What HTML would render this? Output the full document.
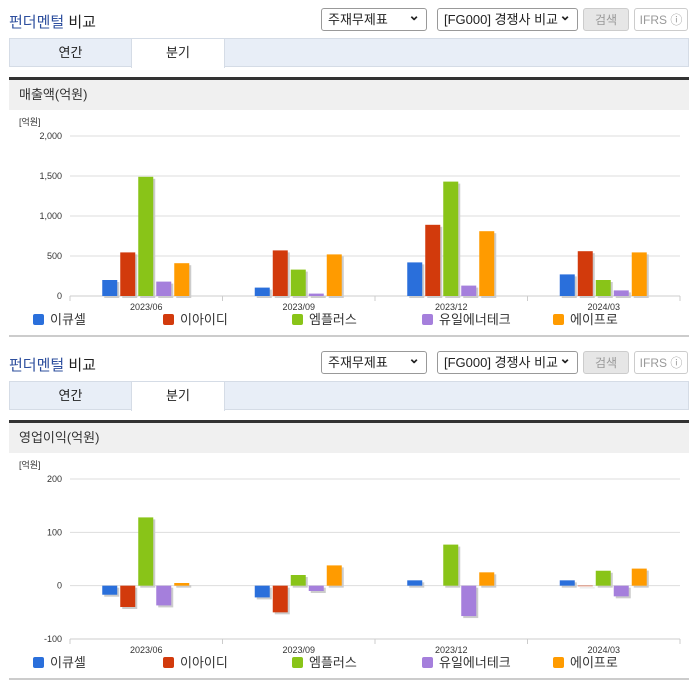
<!DOCTYPE html>
<html><head><meta charset="utf-8">
<style>
body{margin:0;width:696px;height:684px;background:#fff;font-family:"Liberation Sans","Noto Sans CJK KR",sans-serif;position:relative;overflow:hidden}
.sec{position:absolute;left:0;width:696px;height:343px}
.title{position:absolute;left:9px;top:11px;font-size:15px;color:#222}
.title b{font-weight:normal;color:#2e4f9e}
.sel{position:absolute;top:8px;height:23px;border:1px solid #999;border-radius:3px;font-size:13px;line-height:22px;padding-left:6px;box-sizing:border-box;color:#222;background:#fff}
.sel:after{content:"⌄";position:absolute;right:6px;top:-5px;font-size:14px;font-weight:bold}
.btn{position:absolute;top:8px;height:23px;border:1px solid #ccc;border-radius:3px;font-size:12px;line-height:22px;text-align:center;box-sizing:border-box;color:#999}
.tabs{position:absolute;left:9px;top:38px;width:680px;height:29px;background:#e8eef7;border:1px solid #d5dce6;box-sizing:border-box}
.tab{position:absolute;top:0;height:28px;line-height:28px;text-align:center;font-size:13px;color:#222}
.dark{position:absolute;left:9px;top:77px;width:680px;height:3px;background:#333}
.hdr{position:absolute;left:9px;top:80px;width:680px;height:30px;background:#f0f0f0;font-size:13px;line-height:30px;padding-left:10px;box-sizing:border-box;color:#333}
.foot{position:absolute;left:9px;top:335px;width:680px;height:2px;background:#ccc}
svg{position:absolute;left:0;top:110px}
</style></head><body>
<div id="root"></div>
<script>
const categories=["2023/06","2023/09","2023/12","2024/03"];
const seriesNames=["이큐셀","이아이디","엠플러스","유일에너테크","에이프로"];
const colors=["#2a6fdb","#d23a0c","#89c418","#a57fdc","#ff9b00"];
const revIqcell=[200,105,420,270];
const revEid=[545,570,890,560];
const revMplus=[1490,330,1430,200];
const revYuil=[180,30,130,70];
const revApro=[410,520,810,545];
const opIqcell=[-17,-22,10,10];
const opEid=[-40,-50,0,-1];
const opMplus=[128,20,77,28];
const opYuil=[-37,-10,-57,-20];
const opApro=[5,38,25,32];
const revTicks=[0,500,1000,1500,2000];
const revTickLabels=["0","500","1,000","1,500","2,000"];
const opTicks=[-100,0,100,200];
const opTickLabels=["-100","0","100","200"];
const charts=[
 {top:0,header:"매출액(억원)",series:[revIqcell,revEid,revMplus,revYuil,revApro],ticks:revTicks,labels:revTickLabels,min:0,max:2000},
 {top:343,header:"영업이익(억원)",series:[opIqcell,opEid,opMplus,opYuil,opApro],ticks:opTicks,labels:opTickLabels,min:-100,max:200}
];
const NS="http://www.w3.org/2000/svg";
const root=document.getElementById('root');
charts.forEach((c,ci)=>{
 const s=document.createElement('div');s.className='sec';s.style.top=c.top+'px';
 
 
 s.innerHTML=`<div class="title"><b>펀더멘털</b> 비교</div>
<div class="sel" style="left:321px;width:106px">주재무제표</div>
<div class="sel" style="left:437px;width:141px">[FG000] 경쟁사 비교</div>
<div class="btn" style="left:583px;width:46px;background:#e6e6e6">검색</div>
<div class="btn" style="left:634px;width:54px">IFRS ⓘ</div>
<div class="tabs">
<div class="tab" style="left:0;width:121px">연간</div>
<div class="tab" style="left:121px;width:92px;background:#fff;height:29px;border-left:1px solid #d5dce6;border-right:1px solid #d5dce6">분기</div></div>
<div class="dark"></div>
<div class="hdr">${c.header}</div>
<div class="foot"></div>`;
 root.appendChild(s);
 const svg=document.createElementNS(NS,'svg');
 svg.setAttribute('width','696');svg.setAttribute('height','225');
 
 
 s.appendChild(svg);
 const X0=70,X1=680,YT=26,YB=186;
 const y=v=>YB-(v-c.min)/(c.max-c.min)*(YB-YT);
 const gw=(X1-X0)/categories.length;
 const cx=i=>X0+gw*(i+0.5);
 const add=(tag,attrs,txt)=>{const e=document.createElementNS(NS,tag);for(const k in attrs)e.setAttribute(k,attrs[k]);if(txt!==undefined)e.textContent=txt;svg.appendChild(e);return e;};
 const u=add('text',{x:19,y:15,'font-size':9,fill:'#333'},'[억원]');
 
 
 c.ticks.forEach((t,i)=>{
  const g=add('line',{x1:X0,x2:X1,y1:y(t),y2:y(t),stroke:'#ddd'});
  
  
  const l=add('text',{x:62,y:y(t)+3,'font-size':9,fill:'#333','text-anchor':'end'},c.labels[i]);
  
  
 });
 const ax=add('line',{x1:X0,x2:X1,y1:YB,y2:YB,stroke:'#ccc'});
 
 
 for(let i=0;i<=categories.length;i++){const tk=add('line',{x1:X0+gw*i,x2:X0+gw*i,y1:YB,y2:YB+5,stroke:'#ccc'});
  
  }
 categories.forEach((cat,i)=>{
  const t=add('text',{x:cx(i),y:YB+14,'font-size':9,fill:'#333','text-anchor':'middle'},cat);
  
  
  c.series.forEach((ser,si)=>{
   const v=ser[i];const bx=cx(i)-44+si*18;
   const top=Math.min(y(v),y(0)),h=Math.abs(y(v)-y(0));
   if(h<0.5)return;
   const sh=add('rect',{x:bx+2,y:top+2,width:15,height:h,fill:'#ccc'});
   
   
   const r=add('rect',{x:bx,y:top,width:15,height:h,fill:colors[si]});
   
   
  });
 });
 const lx=[33,163,292,422,553];
 seriesNames.forEach((n,si)=>{
  const r=add('rect',{x:lx[si],y:204,width:11,height:11,rx:2,fill:colors[si]});
  
  
  const t=add('text',{x:lx[si]+17,y:214,'font-size':13,fill:'#333'},n);
  
  
 });
});
</script>
</body></html>
